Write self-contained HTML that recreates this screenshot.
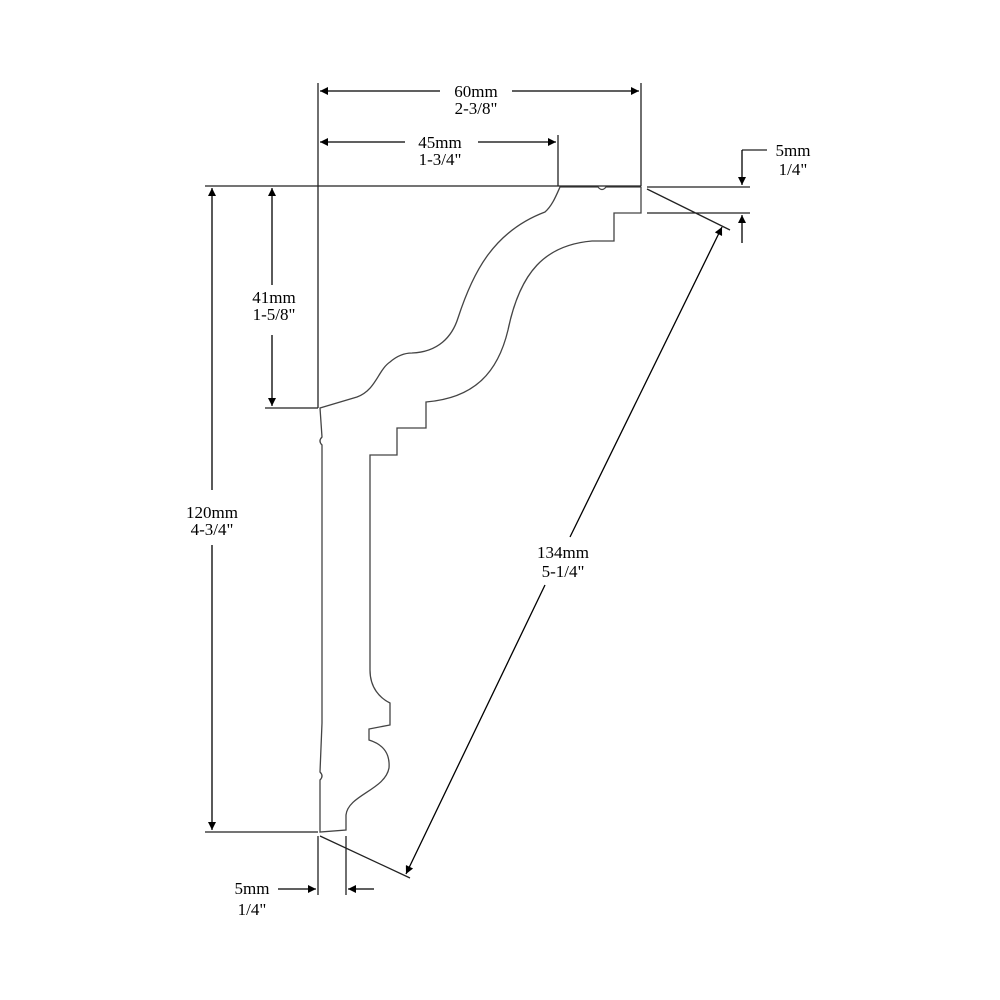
<!DOCTYPE html>
<html><head><style>html,body{margin:0;background:#fff}svg{display:block}</style></head><body>
<svg width="1000" height="1000" viewBox="0 0 1000 1000" xmlns="http://www.w3.org/2000/svg">
<defs><marker id="a" viewBox="0 0 10 10" refX="10" refY="5" markerWidth="16" markerHeight="8" markerUnits="userSpaceOnUse" orient="auto"><path d="M0,0L10,5L0,10z" fill="#000"/></marker></defs>
<g stroke="#222" stroke-width="1.3" fill="none">
<path d="M560,187 L598,187 Q602,192 606,187 L641,187 L641,213 L614,213 L614,241 L592,241 C545,245 520,272 508,330 C498,372 475,398 426,402 L426,428 L397,428 L397,455 L370,455 L370,670 C370,688 380,698 390,703 L390,725 L369,729 L369,740 C385,745 390,755 389,768 C385,790 348,795 346,815 L346,830 L320,832 L320,780 Q324,776 320,772 L322,723 L322,445 Q318,441 322,437 L320,408 L357,397 C376,390 378,370 390,362 C398,355 405,353 412,353 C438,352 452,337 458,318 C472,275 492,232 545,212 C552,206 556,196 560,187 Z" stroke="#444"/>
<path d="M318,83V408 M318,836V895 M205,186H641 M641,83V186 M558,135V186 M205,832H318 M265,408H318 M346,836V895 M647,187H750 M647,213H750 M647,189L730,230 M320,836L410,878 M742,150H767"/>
</g>
<g stroke="#000" stroke-width="1.3" fill="none">
<line x1="440" y1="91" x2="320" y2="91" marker-end="url(#a)"/>
<line x1="512" y1="91" x2="639" y2="91" marker-end="url(#a)"/>
<line x1="405" y1="142" x2="320" y2="142" marker-end="url(#a)"/>
<line x1="478" y1="142" x2="556" y2="142" marker-end="url(#a)"/>
<line x1="212" y1="490" x2="212" y2="188" marker-end="url(#a)"/>
<line x1="212" y1="545" x2="212" y2="830" marker-end="url(#a)"/>
<line x1="272" y1="285" x2="272" y2="188" marker-end="url(#a)"/>
<line x1="272" y1="335" x2="272" y2="406" marker-end="url(#a)"/>
<line x1="742" y1="150" x2="742" y2="185" marker-end="url(#a)"/>
<line x1="742" y1="243" x2="742" y2="215" marker-end="url(#a)"/>
<line x1="570" y1="537" x2="722" y2="227" marker-end="url(#a)"/>
<line x1="545" y1="585" x2="406" y2="874" marker-end="url(#a)"/>
<line x1="278" y1="889" x2="316" y2="889" marker-end="url(#a)"/>
<line x1="374" y1="889" x2="348" y2="889" marker-end="url(#a)"/>
</g>
<g font-family="Liberation Serif, serif" font-size="17" fill="#000" text-anchor="middle">
<text x="476" y="97">60mm</text><text x="476" y="114">2-3/8"</text>
<text x="440" y="148">45mm</text><text x="440" y="165">1-3/4"</text>
<text x="274" y="303">41mm</text><text x="274" y="320">1-5/8"</text>
<text x="212" y="518">120mm</text><text x="212" y="535">4-3/4"</text>
<text x="563" y="558">134mm</text><text x="563" y="577">5-1/4"</text>
<text x="793" y="156">5mm</text><text x="793" y="175">1/4"</text>
<text x="252" y="894">5mm</text><text x="252" y="915">1/4"</text>
</g>
</svg>
</body></html>
